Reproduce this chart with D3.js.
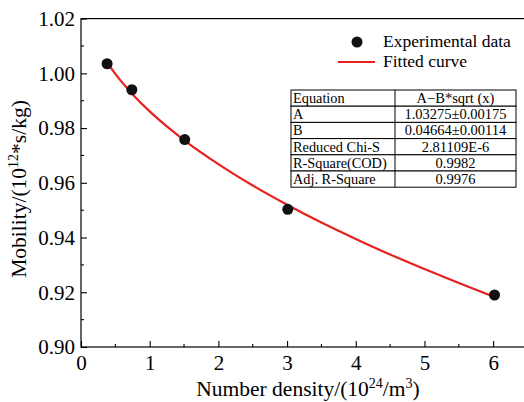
<!DOCTYPE html>
<html><head><meta charset="utf-8">
<script src="https://cdn.jsdelivr.net/npm/d3@7"></script>
<style>
body{margin:0;background:#fff;}
svg{display:block;}
</style></head>
<body><svg id="c" width="524" height="402" font-family="Liberation Serif, serif"></svg>
<script>
// Experimental data
const densX = [0.38, 0.74, 1.51, 3.01, 6.02];
const mobY  = [1.0035, 0.9940, 0.9758, 0.9503, 0.9190];
// Fitted curve samples
const fitX = [0.37, 0.5, 0.75, 1, 1.25, 1.5, 2, 2.5, 3, 3.5, 4, 4.5, 5, 5.5, 6.02];
const fitY = [1.0044, 0.9998, 0.9924, 0.9861, 0.9806, 0.9756, 0.9668, 0.9590, 0.9520, 0.9455, 0.9395, 0.9338, 0.9285, 0.9234, 0.9183];
// Axis ticks
const xTicks = [0, 1, 2, 3, 4, 5, 6];
const yTicks = [0.90, 0.92, 0.94, 0.96, 0.98, 1.00, 1.02];
// Fit table
const tableRows = [
  ["Equation", "A\u2212B*sqrt (x)"],
  ["A", "1.03275\u00b10.00175"],
  ["B", "0.04664\u00b10.00114"],
  ["Reduced Chi-S", "2.81109E-6"],
  ["R-Square(COD)", "0.9982"],
  ["Adj. R-Square", "0.9976"]
];

const FONT = "Liberation Serif, serif";
const svg = d3.select("#c");
const L = 81, R = 527.5, T = 18.6, B = 347;
const x = d3.scaleLinear().domain([0, 6.5]).range([L, R]);
const y = d3.scaleLinear().domain([0.90, 1.02]).range([B, T]);

// frame
svg.append("rect").attr("x", L).attr("y", T).attr("width", R - L).attr("height", B - T)
  .attr("fill", "none").attr("stroke", "#000").attr("stroke-width", 1.2);

// x axis (ticks inward)
const xAxis = d3.axisBottom(x).tickValues(xTicks).tickFormat(d3.format("d")).tickSizeInner(-6).tickSizeOuter(0).tickPadding(8);
const gx = svg.append("g").attr("transform", `translate(0,${B})`).call(xAxis)
  .attr("font-family", FONT).attr("font-size", 21);
gx.select(".domain").remove();
gx.selectAll("text").attr("fill", "#000");
gx.selectAll("line").attr("stroke-width", 1.1);
const xMinor = d3.range(0.5, 6.5, 1);
svg.append("g").selectAll("line").data(xMinor).join("line")
  .attr("x1", d => x(d)).attr("x2", d => x(d)).attr("y1", B).attr("y2", B - 3)
  .attr("stroke", "#000").attr("stroke-width", 1.1);

// y axis
const yAxis = d3.axisLeft(y).tickValues(yTicks).tickFormat(d3.format(".2f")).tickSizeInner(-6).tickSizeOuter(0).tickPadding(6);
const gy = svg.append("g").attr("transform", `translate(${L},0)`).call(yAxis)
  .attr("font-family", FONT).attr("font-size", 21);
gy.select(".domain").remove();
gy.selectAll("text").attr("fill", "#000");
gy.selectAll("line").attr("stroke-width", 1.1);
const yMinor = d3.range(0.91, 1.02, 0.02);
svg.append("g").selectAll("line").data(yMinor).join("line")
  .attr("x1", L).attr("x2", L + 3).attr("y1", d => y(d)).attr("y2", d => y(d))
  .attr("stroke", "#000").attr("stroke-width", 1.1);

// axis titles
const xt = svg.append("text").attr("x", 308).attr("y", 396).attr("text-anchor", "middle")
  .attr("font-size", 21.5).attr("fill", "#000");
xt.append("tspan").text("Number density/(10");
xt.append("tspan").attr("dy", -8).attr("font-size", 14).text("24");
xt.append("tspan").attr("dy", 8).text("/m");
xt.append("tspan").attr("dy", -8).attr("font-size", 14).text("3");
xt.append("tspan").attr("dy", 8).text(")");

const yt = svg.append("text").attr("transform", "translate(26,189) rotate(-90)").attr("text-anchor", "middle")
  .attr("font-size", 21.5).attr("fill", "#000");
yt.append("tspan").text("Mobility/(10");
yt.append("tspan").attr("dy", -8).attr("font-size", 14).text("12");
yt.append("tspan").attr("dy", 8).text("*s/kg)");

// fitted curve
const red = "#e8201e";
const line = d3.line().x(d => x(d[0])).y(d => y(d[1])).curve(d3.curveMonotoneX);
svg.append("path").datum(fitX.map((v, i) => [v, fitY[i]]))
  .attr("d", line).attr("fill", "none").attr("stroke", red).attr("stroke-width", 2.2);

// points
svg.append("g").selectAll("circle").data(densX.map((v, i) => [v, mobY[i]])).join("circle")
  .attr("cx", d => x(d[0])).attr("cy", d => y(d[1])).attr("r", 5.5).attr("fill", "#111");

// legend
svg.append("circle").attr("cx", 357).attr("cy", 42).attr("r", 5.5).attr("fill", "#111");
svg.append("text").attr("x", 383).attr("y", 47).attr("font-size", 17.5).attr("fill", "#000").text("Experimental data");
svg.append("line").attr("x1", 338).attr("x2", 375).attr("y1", 62).attr("y2", 62).attr("stroke", red).attr("stroke-width", 2.2);
svg.append("text").attr("x", 383).attr("y", 67).attr("font-size", 17.5).attr("fill", "#000").text("Fitted curve");

// table
const tL = 291, tR = 516, tT = 90, rowH = 16.2, tC = 395;
const tg = svg.append("g");
tableRows.forEach((r, i) => {
  const yy = tT + i * rowH;
  tg.append("rect").attr("x", tL).attr("y", yy).attr("width", tR - tL).attr("height", rowH)
    .attr("fill", "#fff").attr("stroke", "#000").attr("stroke-width", 1);
  tg.append("text").attr("x", tL + 2).attr("y", yy + rowH - 3.3).attr("font-size", 14.3).attr("fill", "#000").text(r[0]);
  tg.append("text").attr("x", (tC + tR) / 2).attr("y", yy + rowH - 3.3).attr("text-anchor", "middle")
    .attr("font-size", 14.5).attr("fill", "#000").text(r[1]);
});
tg.append("line").attr("x1", tC).attr("x2", tC).attr("y1", tT).attr("y2", tT + rowH * tableRows.length)
  .attr("stroke", "#000").attr("stroke-width", 1);
</script></body></html>
